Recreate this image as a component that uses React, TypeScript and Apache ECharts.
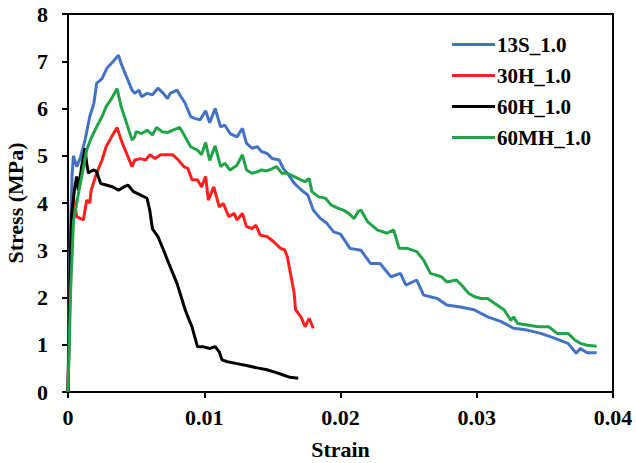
import React, { useEffect, useRef } from "react";
import * as echarts from "echarts";

const seriesNames = ["13S_1.0", "30H_1.0", "60H_1.0", "60MH_1.0"];
const seriesColors = ["#4472C4", "#FF1F1F", "#000000", "#21A34A"];

const curve13S: [number, number][] = [
  [0, 0], [0.0001, 2.5], [0.0003, 4.6], [0.0004, 5.0], [0.00064, 4.77], [0.0009, 4.95], [0.00125, 5.33],
  [0.0016, 5.83], [0.0019, 6.11], [0.0021, 6.53], [0.0025, 6.63], [0.00285, 6.85], [0.0033, 6.99],
  [0.0037, 7.13], [0.0039, 6.95], [0.0043, 6.67], [0.0047, 6.39], [0.0049, 6.32], [0.0052, 6.39],
  [0.0054, 6.25], [0.0058, 6.32], [0.0062, 6.29], [0.0066, 6.43], [0.007, 6.32], [0.0073, 6.21],
  [0.0075, 6.32], [0.008, 6.39], [0.0082, 6.29], [0.0086, 6.11], [0.009, 5.83], [0.0093, 5.79],
  [0.0097, 5.76], [0.0101, 5.95], [0.0104, 5.7], [0.0108, 6.0], [0.0112, 5.61], [0.0115, 5.65],
  [0.0119, 5.47], [0.0124, 5.4], [0.0128, 5.58], [0.0131, 5.26], [0.0135, 5.16], [0.0139, 5.19],
  [0.0142, 5.09], [0.0146, 5.05], [0.015, 4.94], [0.0155, 4.91], [0.0158, 4.73], [0.0162, 4.59],
  [0.0166, 4.42], [0.0171, 4.28], [0.0176, 4.17], [0.018, 3.85], [0.0185, 3.68], [0.019, 3.57],
  [0.0195, 3.39], [0.02, 3.34], [0.0207, 3.04], [0.0215, 3.0], [0.0222, 2.72], [0.0229, 2.72],
  [0.0237, 2.44], [0.0244, 2.51], [0.0248, 2.26], [0.0256, 2.37], [0.0261, 2.05], [0.0271, 1.98],
  [0.0278, 1.84], [0.0288, 1.8], [0.0298, 1.74], [0.0308, 1.59], [0.0318, 1.49], [0.0327, 1.35],
  [0.0337, 1.31], [0.0347, 1.24], [0.0357, 1.14], [0.0367, 1.03], [0.0373, 0.82], [0.0376, 0.92],
  [0.0381, 0.83], [0.0388, 0.83],
];

const curve30H: [number, number][] = [
  [0, 0], [0.0002, 3.0], [0.0004, 4.13], [0.00064, 3.71], [0.00113, 3.64], [0.00137, 4.06], [0.0016, 4.0],
  [0.0017, 4.27], [0.0021, 4.63], [0.0025, 4.91], [0.0028, 5.19], [0.0032, 5.4], [0.0036, 5.6],
  [0.0039, 5.33], [0.0043, 5.05], [0.0047, 4.77], [0.0049, 4.91], [0.0053, 4.94], [0.0057, 4.91],
  [0.006, 5.02], [0.0064, 4.94], [0.0068, 5.02], [0.0073, 5.02], [0.0077, 5.02], [0.0081, 4.91],
  [0.0085, 4.77], [0.0088, 4.73], [0.0091, 4.49], [0.0095, 4.49], [0.0098, 4.34], [0.0101, 4.56],
  [0.0103, 4.06], [0.0107, 4.34], [0.0111, 3.92], [0.0114, 3.99], [0.0118, 3.71], [0.0122, 3.78],
  [0.0124, 3.64], [0.0128, 3.78], [0.0131, 3.5], [0.0135, 3.46], [0.0138, 3.53], [0.0141, 3.32],
  [0.0146, 3.29], [0.0151, 3.18], [0.0156, 3.04], [0.0159, 3.01], [0.0161, 2.86], [0.0166, 2.09],
  [0.0167, 1.74], [0.0171, 1.59], [0.0174, 1.38], [0.0177, 1.56], [0.018, 1.35],
];

const curve60H: [number, number][] = [
  [0, 0], [0.00015, 2.5], [0.00027, 3.78], [0.0005, 4.34], [0.00064, 4.56], [0.00076, 4.27], [0.001, 4.77],
  [0.00125, 5.16], [0.00137, 4.84], [0.0015, 4.63], [0.0016, 4.66], [0.0019, 4.7], [0.0021, 4.66],
  [0.0024, 4.41], [0.0028, 4.38], [0.0033, 4.34], [0.0037, 4.27], [0.0041, 4.34], [0.0044, 4.38],
  [0.0048, 4.24], [0.0053, 4.17], [0.0058, 4.1], [0.006, 3.85], [0.0062, 3.45], [0.0066, 3.29],
  [0.007, 3.01], [0.0074, 2.72], [0.0076, 2.58], [0.008, 2.3], [0.0083, 2.02], [0.0086, 1.74],
  [0.0088, 1.59], [0.0091, 1.38], [0.0093, 1.17], [0.0095, 0.96], [0.0099, 0.96], [0.0104, 0.92],
  [0.0108, 0.96], [0.0111, 0.85], [0.0113, 0.68], [0.0117, 0.64], [0.0124, 0.6], [0.0131, 0.56],
  [0.0139, 0.51], [0.0146, 0.47], [0.0153, 0.41], [0.0158, 0.36], [0.0163, 0.31], [0.0169, 0.29],
];

const curve60MH: [number, number][] = [
  [0, 0], [0.0002, 2.2], [0.0004, 3.6], [0.0007, 4.1], [0.001, 4.55], [0.00137, 5.12], [0.0017, 5.37],
  [0.0021, 5.61], [0.0025, 5.83], [0.0028, 6.04], [0.0032, 6.21], [0.0036, 6.42], [0.0039, 6.04],
  [0.0043, 5.69], [0.0047, 5.33], [0.0049, 5.4], [0.005, 5.51], [0.0054, 5.47], [0.0058, 5.54],
  [0.0062, 5.44], [0.0065, 5.6], [0.0069, 5.51], [0.0073, 5.49], [0.0077, 5.54], [0.0082, 5.6],
  [0.0086, 5.4], [0.009, 5.19], [0.0095, 5.12], [0.0098, 5.02], [0.0101, 5.28], [0.0104, 4.9],
  [0.0108, 5.21], [0.0112, 4.77], [0.0115, 4.84], [0.0119, 4.7], [0.0124, 4.8], [0.0128, 5.02],
  [0.0131, 4.7], [0.0135, 4.63], [0.0139, 4.66], [0.0142, 4.7], [0.0146, 4.68], [0.015, 4.73],
  [0.0153, 4.77], [0.0157, 4.63], [0.0161, 4.63], [0.0166, 4.56], [0.0171, 4.49], [0.0174, 4.45],
  [0.0177, 4.52], [0.0179, 4.24], [0.0184, 4.13], [0.0189, 4.1], [0.0193, 3.96], [0.0198, 3.89],
  [0.0202, 3.85], [0.0206, 3.78], [0.021, 3.67], [0.0213, 3.82], [0.0215, 3.85], [0.022, 3.6],
  [0.0227, 3.43], [0.0234, 3.36], [0.0239, 3.43], [0.0243, 3.04], [0.0249, 3.04], [0.0256, 2.97],
  [0.0261, 2.79], [0.0266, 2.51], [0.0274, 2.44], [0.0278, 2.33], [0.0285, 2.37], [0.0289, 2.26],
  [0.0294, 2.09], [0.0298, 2.02], [0.0303, 1.98], [0.0308, 1.98], [0.0313, 1.88], [0.032, 1.74],
  [0.0325, 1.52], [0.0327, 1.59], [0.033, 1.45], [0.0337, 1.42], [0.0345, 1.38], [0.0353, 1.38],
  [0.0359, 1.24], [0.0367, 1.24], [0.0372, 1.1], [0.0376, 1.03], [0.0381, 0.99], [0.0388, 0.97],
];

const curves = [curve13S, curve30H, curve60H, curve60MH];

const FONT = '"Times New Roman", "Liberation Serif", serif';

export default function App() {
  const ref = useRef<HTMLDivElement>(null);
  useEffect(() => {
    if (!ref.current) return;
    const chart = echarts.init(ref.current, undefined, { renderer: "svg" });
    const labelStyle = { fontFamily: FONT, fontWeight: "bold" as const, fontSize: 22, color: "#000" };
    chart.setOption({
      animation: false,
      backgroundColor: "#fff",
      grid: {
        left: 68, right: 23, top: 14, bottom: 71,
        containLabel: false,
        outerBoundsMode: "none",
        show: true, borderColor: "#000", borderWidth: 2, backgroundColor: "transparent",
      },
      legend: {
        orient: "vertical",
        left: 447,
        top: 29,
        icon: "rect",
        itemWidth: 43,
        itemHeight: 3,
        itemGap: 10,
        data: seriesNames,
        textStyle: { ...labelStyle, fontSize: 21, padding: [0, 0, 0, -3] },
      },
      xAxis: {
        type: "value",
        min: 0, max: 0.04, interval: 0.01,
        name: "Strain",
        nameLocation: "middle",
        nameGap: 46,
        nameTextStyle: labelStyle,
        axisLine: { show: true, onZero: false, lineStyle: { color: "#000", width: 2 } },
        axisTick: { show: true, inside: false, length: 6, lineStyle: { color: "#000", width: 2 } },
        axisLabel: { ...labelStyle, margin: 14, formatter: (v: number) => (v === 0 ? "0" : String(+v.toFixed(2))) },
        splitLine: { show: false },
      },
      yAxis: {
        type: "value",
        min: 0, max: 8, interval: 1,
        name: "Stress (MPa)",
        nameLocation: "middle",
        nameGap: 38,
        nameTextStyle: labelStyle,
        axisLine: { show: true, onZero: false, lineStyle: { color: "#000", width: 2 } },
        axisTick: { show: true, inside: false, length: 6, lineStyle: { color: "#000", width: 2 } },
        axisLabel: { ...labelStyle, margin: 20 },
        splitLine: { show: false },
      },
      series: curves.map((data, i) => ({
        name: seriesNames[i],
        type: "line",
        data,
        symbol: "none",
        showSymbol: false,
        color: seriesColors[i],
        lineStyle: { color: seriesColors[i], width: 3 },
      })),
    });
    return () => chart.dispose();
  }, []);
  return <div ref={ref} style={{ width: 636, height: 463, position: "fixed", left: 0, top: 0 }} />;
}
